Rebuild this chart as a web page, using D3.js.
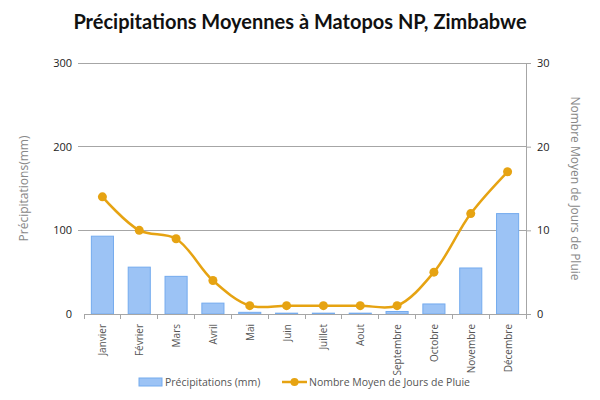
<!DOCTYPE html>
<html><head><meta charset="utf-8">
<script src="https://cdn.jsdelivr.net/npm/d3@7"></script>
<style>body{margin:0;background:#fff}svg{display:block}</style>
</head><body><svg id="c" width="600" height="400"></svg>
<script>
const months = ["Janvier","Février","Mars","Avril","Mai","Juin","Juillet","Aout","Septembre","Octobre","Novembre","Décembre"];
const precip = [93,56,45,13,2,1,1,1,3,12,55,120];
const rainDays = [14,10,9,4,1,1,1,1,1,5,12,17];
const leftTicks = [0,100,200,300];
const rightTicks = [0,10,20,30];

const svg = d3.select("#c");
const m = {l:84, r:526, t:63, b:314};
const x = d3.scaleBand().domain(months).range([m.l, m.r]).paddingInner(0.4).paddingOuter(0.2);
const xb = d3.scaleBand().domain(months).range([m.l, m.r]);
const yL = d3.scaleLinear().domain([0,300]).range([m.b, m.t]);
const yR = d3.scaleLinear().domain([0,30]).range([m.b, m.t]);
const font = "'Open Sans', 'DejaVu Sans', sans-serif";

svg.append("text").attr("x",300).attr("y",29).attr("text-anchor","middle")
  .style("font-family","Lato, 'Open Sans', sans-serif").style("font-weight","bold").style("font-size","20px")
  .attr("fill","#111").text("Précipitations Moyennes à Matopos NP, Zimbabwe");

// gridlines
svg.append("g").selectAll("line").data(leftTicks.filter(d=>d>0)).join("line")
  .attr("x1",m.l-6).attr("x2",m.r).attr("y1",d=>yL(d)).attr("y2",d=>yL(d))
  .attr("stroke","#a6a6a6").attr("stroke-width",1).attr("shape-rendering","crispEdges");

// left axis labels
svg.append("g").selectAll("text").data(leftTicks).join("text")
  .attr("x",m.l-12).attr("y",d=>yL(d)+4).attr("text-anchor","end")
  .style("font-family",font).style("font-size","11px").attr("fill","#222").text(d=>d);

// right axis
const gR = svg.append("g").attr("transform",`translate(${m.r},0)`);
gR.call(d3.axisRight(yR).tickValues(rightTicks).tickSize(5).tickPadding(6));
gR.select(".domain").attr("stroke","#a6a6a6");
gR.selectAll(".tick line").attr("stroke","#a6a6a6");
gR.selectAll(".tick text").style("font-family",font).style("font-size","11px").attr("fill","#222");

// bars
svg.append("g").selectAll("rect").data(precip).join("rect")
  .attr("x",(d,i)=>x(months[i])).attr("width",x.bandwidth())
  .attr("y",d=>yL(d)).attr("height",d=>m.b-yL(d))
  .attr("fill","#9cc3f5").attr("stroke","#74abee").attr("stroke-width",1);

// bottom axis
const gB = svg.append("g").attr("transform",`translate(0,${m.b})`);
gB.append("line").attr("x1",m.l).attr("x2",m.r).attr("stroke","#a6a6a6").attr("shape-rendering","crispEdges");
gB.selectAll("line.t").data(d3.range(months.length+1)).join("line").attr("class","t")
  .attr("x1",i=>m.l+i*xb.bandwidth()).attr("x2",i=>m.l+i*xb.bandwidth())
  .attr("y1",0).attr("y2",5).attr("stroke","#a6a6a6").attr("shape-rendering","crispEdges");
gB.selectAll("text").data(months).join("text")
  .attr("transform",d=>`translate(${xb(d)+xb.bandwidth()/2+4},10) rotate(-90)`)
  .attr("text-anchor","end").style("font-family",font).style("font-size","10px").attr("fill","#555").text(d=>d);

// line
const line = d3.line().x((d,i)=>xb(months[i])+xb.bandwidth()/2).y(d=>yR(d)).curve(d3.curveCatmullRom.alpha(0.5));
svg.append("path").datum(rainDays).attr("d",line).attr("fill","none").attr("stroke","#e6a312").attr("stroke-width",2.5);
svg.append("g").selectAll("circle").data(rainDays).join("circle")
  .attr("cx",(d,i)=>xb(months[i])+xb.bandwidth()/2).attr("cy",d=>yR(d)).attr("r",4.5).attr("fill","#e6a312");

// axis titles
svg.append("text").attr("transform",`translate(28,${(m.t+m.b)/2}) rotate(-90)`).attr("text-anchor","middle")
  .style("font-family",font).style("font-size","12px").attr("fill","#888").text("Précipitations(mm)");
svg.append("text").attr("transform",`translate(571,${(m.t+m.b)/2}) rotate(90)`).attr("text-anchor","middle")
  .style("font-family",font).style("font-size","12px").attr("fill","#888").text("Nombre Moyen de Jours de Pluie");

// legend
const lg = svg.append("g").attr("transform","translate(0,382)");
lg.append("rect").attr("x",139).attr("y",-4).attr("width",23).attr("height",8).attr("fill","#9cc3f5").attr("stroke","#74abee");
lg.append("text").attr("x",165).attr("y",4).style("font-family",font).style("font-size","10.5px").attr("fill","#555").text("Précipitations (mm)");
lg.append("line").attr("x1",282).attr("x2",307).attr("y1",0).attr("y2",0).attr("stroke","#e6a312").attr("stroke-width",2.5);
lg.append("circle").attr("cx",294.5).attr("cy",0).attr("r",4).attr("fill","#e6a312");
lg.append("text").attr("x",309).attr("y",4).style("font-family",font).style("font-size","10.5px").attr("fill","#555").text("Nombre Moyen de Jours de Pluie");
</script></body></html>
